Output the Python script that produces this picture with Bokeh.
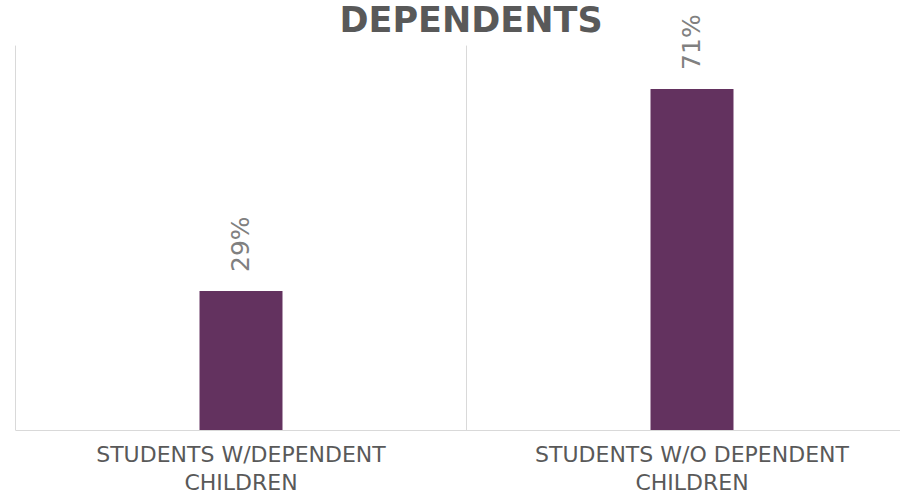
import math
from bokeh.plotting import figure
from bokeh.models import Range1d, FixedTicker, ColumnDataSource, LabelSet, Label
from bokeh.core.properties import value
from bokeh.embed import file_html
from bokeh.resources import INLINE

# ---- data ----
title_text = "DEPENDENTS"
categories = ["Students w/dependent children", "Students w/o dependent children"]
tick_labels = ["STUDENTS W/DEPENDENT\nCHILDREN", "STUDENTS W/O DEPENDENT\nCHILDREN"]
values = [29, 71]
value_labels = ["29%", "71%"]
y_axis_max = 80

x_pos = [i + 0.5 for i in range(len(categories))]
boundaries = [float(i) for i in range(len(categories) + 1)]
source = ColumnDataSource(dict(x=x_pos, top=values, label=value_labels))
sep = ColumnDataSource(dict(x=boundaries, y0=[0] * len(boundaries),
                            y1=[y_axis_max] * len(boundaries)))

p = figure(width=900, height=499,
           x_range=Range1d(-0.00887, 1.9623), y_range=Range1d(0, 89.37),
           output_backend="svg", toolbar_location=None,
           min_border_left=11, min_border_right=0,
           min_border_top=0, min_border_bottom=69)

# category separators (Excel-style vertical gridlines)
p.segment(x0="x", y0="y0", x1="x", y1="y1", source=sep,
          line_color="#d9d9d9", line_width=1)

p.vbar(x="x", top="top", width=0.184, source=source,
       fill_color="#63325f", line_color=None)

p.yaxis.visible = False
p.ygrid.visible = False
p.xgrid.visible = False
p.outline_line_color = None

p.xaxis.ticker = FixedTicker(ticks=x_pos)
p.xaxis.major_label_overrides = {x: lbl for x, lbl in zip(x_pos, tick_labels)}
p.xaxis.bounds = (boundaries[0], boundaries[-1])
p.xaxis.major_tick_line_color = None
p.xaxis.minor_tick_line_color = None
p.xaxis.major_tick_out = 0
p.xaxis.major_tick_in = 0
p.xaxis.major_label_standoff = 11
p.xaxis.major_label_text_font = "DejaVu Sans"
p.xaxis.major_label_text_font_size = "22px"
p.xaxis.major_label_text_line_height = 1.13
p.xaxis.major_label_text_color = "#595959"
p.xaxis.axis_line_color = "#d9d9d9"

labels = LabelSet(x="x", y="top", text="label", source=source,
                  angle=math.pi / 2, text_align="left", text_baseline="middle",
                  y_offset=19, text_font=value("DejaVu Sans"),
                  text_font_size="25px", text_color="#808080")
p.add_layout(labels)

title = Label(x=1.01, y=85.3, text=title_text, text_align="center",
              text_baseline="alphabetic", text_font="DejaVu Sans",
              text_font_style="bold", text_font_size="35px",
              text_color="#595959")
p.add_layout(title)

open("out.html", "w").write(file_html(p, INLINE))
